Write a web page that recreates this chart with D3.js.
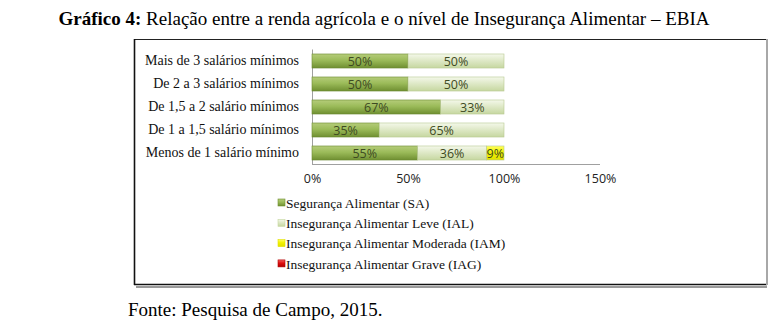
<!DOCTYPE html>
<html>
<head>
<meta charset="utf-8">
<script src="https://cdn.jsdelivr.net/npm/d3@7"></script>
<style>
  html, body { margin: 0; padding: 0; background: #ffffff; }
  svg { display: block; }
  .serif { font-family: "Liberation Serif", "Times New Roman", serif; }
  .sans { font-family: "Open Sans", "Liberation Sans", sans-serif; }
</style>
</head>
<body>
<svg id="chart" width="771" height="324"></svg>
<script>
// Income brackets (top to bottom) and share of each food-security level
const categories = [
  "Mais de 3 salários mínimos",
  "De 2 a 3 salários mínimos",
  "De 1,5 a 2 salário mínimos",
  "De 1 a 1,5 salário mínimos",
  "Menos de 1 salário mínimo"
];
const seriesNames = [
  "Segurança Alimentar (SA)",
  "Insegurança Alimentar Leve (IAL)",
  "Insegurança Alimentar Moderada (IAM)",
  "Insegurança Alimentar Grave (IAG)"
];
const valuesSA  = [50, 50, 67, 35, 55];
const valuesIAL = [50, 50, 33, 65, 36];
const valuesIAM = [0, 0, 0, 0, 9];
const valuesIAG = [0, 0, 0, 0, 0];
const xTicks = [0, 50, 100, 150];

const seriesValues = [valuesSA, valuesIAL, valuesIAM, valuesIAG];
const seriesColors = [
  { top: "#b5cc7a", mid: "#9bbb59", bot: "#6f8f31", text: "#3e4a22" },
  { top: "#f4f8ea", mid: "#dfe9c8", bot: "#c6d7a0", text: "#3e4a22" },
  { top: "#ffff60", mid: "#f2f200", bot: "#e0e000", text: "#3e4a22" },
  { top: "#f06060", mid: "#e01010", bot: "#b00000", text: "#ffffff" }
];

const svg = d3.select("#chart");

// gradients for a bevelled bar look
const defs = svg.append("defs");
seriesColors.forEach((c, i) => {
  const g = defs.append("linearGradient").attr("id", "grad" + i)
    .attr("x1", 0).attr("y1", 0).attr("x2", 0).attr("y2", 1);
  g.append("stop").attr("offset", "0%").attr("stop-color", c.top);
  g.append("stop").attr("offset", "45%").attr("stop-color", c.mid);
  g.append("stop").attr("offset", "100%").attr("stop-color", c.bot);
});

// title
const title = svg.append("text")
  .attr("class", "serif")
  .attr("x", 384).attr("y", 25)
  .attr("text-anchor", "middle")
  .style("font-size", "19px").attr("fill", "#000");
title.append("tspan").attr("font-weight", "bold").text("Gráfico 4:");
title.append("tspan").text(" Relação entre a renda agrícola e o nível de Insegurança Alimentar – EBIA");

// frame around the chart object
svg.append("rect").attr("x", 136).attr("y", 286).attr("width", 631).attr("height", 2).attr("fill", "#9a9a9a");
svg.append("line").attr("x1", 134).attr("x2", 767).attr("y1", 39.5).attr("y2", 39.5)
  .attr("stroke", "#222").attr("stroke-width", 1.2);
svg.append("line").attr("x1", 134.5).attr("x2", 134.5).attr("y1", 39).attr("y2", 285)
  .attr("stroke", "#111").attr("stroke-width", 1.6);
svg.append("line").attr("x1", 134).attr("x2", 767).attr("y1", 284.5).attr("y2", 284.5)
  .attr("stroke", "#111").attr("stroke-width", 1.6);
svg.append("line").attr("x1", 767).attr("x2", 767).attr("y1", 39).attr("y2", 285)
  .attr("stroke", "#a8a8a8").attr("stroke-width", 2);

// scales
const x = d3.scaleLinear().domain([0, 150]).range([312, 600]);
const y = d3.scaleBand().domain(categories).range([49.5, 164.5]).paddingInner(0.39).paddingOuter(0.195);

// axis lines
svg.append("line").attr("x1", x(0)).attr("x2", x(150)).attr("y1", 164.5).attr("y2", 164.5)
  .attr("stroke", "#a0a0a0").attr("stroke-width", 1);
svg.append("line").attr("x1", x(0) + 0.5).attr("x2", x(0) + 0.5).attr("y1", 49.5).attr("y2", 164.5)
  .attr("stroke", "#a0a0a0").attr("stroke-width", 1);

// x tick labels
const xAxis = d3.axisBottom(x).tickValues(xTicks).tickFormat(d => d + "%").tickSize(0).tickPadding(0);
const xg = svg.append("g").attr("transform", "translate(0,174)").call(xAxis);
xg.select(".domain").remove();
xg.attr("font-family", null);
xg.selectAll("text").attr("class", "sans").style("font-size", "12.5px").attr("fill", "#222").attr("dy", "0.71em");

// category labels
const yAxis = d3.axisLeft(y).tickSize(0).tickPadding(0);
const yg = svg.append("g").attr("transform", "translate(299,0)").call(yAxis);
yg.select(".domain").remove();
yg.attr("font-family", null);
yg.selectAll("text").attr("class", "serif").style("font-size", "14px").attr("fill", "#111");

// stacked bars
const rows = categories.map((c, ci) => {
  let acc = 0;
  return seriesValues.map((vals, si) => {
    const seg = { cat: c, series: si, x0: acc, x1: acc + vals[ci], v: vals[ci] };
    acc += vals[ci];
    return seg;
  });
}).flat().filter(d => d.v > 0);

const bars = svg.append("g");
bars.selectAll("rect.seg").data(rows).join("rect")
  .attr("class", "seg")
  .attr("x", d => x(d.x0))
  .attr("y", d => y(d.cat))
  .attr("width", d => x(d.x1) - x(d.x0))
  .attr("height", y.bandwidth())
  .attr("fill", d => "url(#grad" + d.series + ")")
  .attr("stroke", d => d.series === 0 ? "#6b8a30" : "#b8c890")
  .attr("stroke-width", 0.6);

// value labels inside each segment
bars.selectAll("text.val").data(rows).join("text")
  .attr("class", "val sans")
  .attr("x", d => (x(d.x0) + x(d.x1)) / 2)
  .attr("y", d => y(d.cat) + y.bandwidth() / 2)
  .attr("dy", "0.36em")
  .attr("text-anchor", "middle")
  .style("font-size", "12.5px")
  .attr("fill", d => seriesColors[d.series].text)
  .text(d => d.v + "%");

// legend
const legend = svg.append("g");
seriesNames.forEach((name, i) => {
  const ly = 203 + i * 20.3;
  legend.append("rect").attr("x", 278).attr("y", ly - 4).attr("width", 7).attr("height", 7)
    .attr("fill", "url(#grad" + i + ")").attr("stroke", seriesColors[i].bot).attr("stroke-width", 0.6);
  legend.append("text").attr("class", "serif").attr("x", 286).attr("y", ly).attr("dy", "0.35em")
    .style("font-size", "13.5px").attr("fill", "#111").text(name);
});

// source note
svg.append("text").attr("class", "serif").attr("x", 128).attr("y", 316)
  .style("font-size", "19px").attr("fill", "#000")
  .text("Fonte: Pesquisa de Campo, 2015.");
</script>
</body>
</html>
